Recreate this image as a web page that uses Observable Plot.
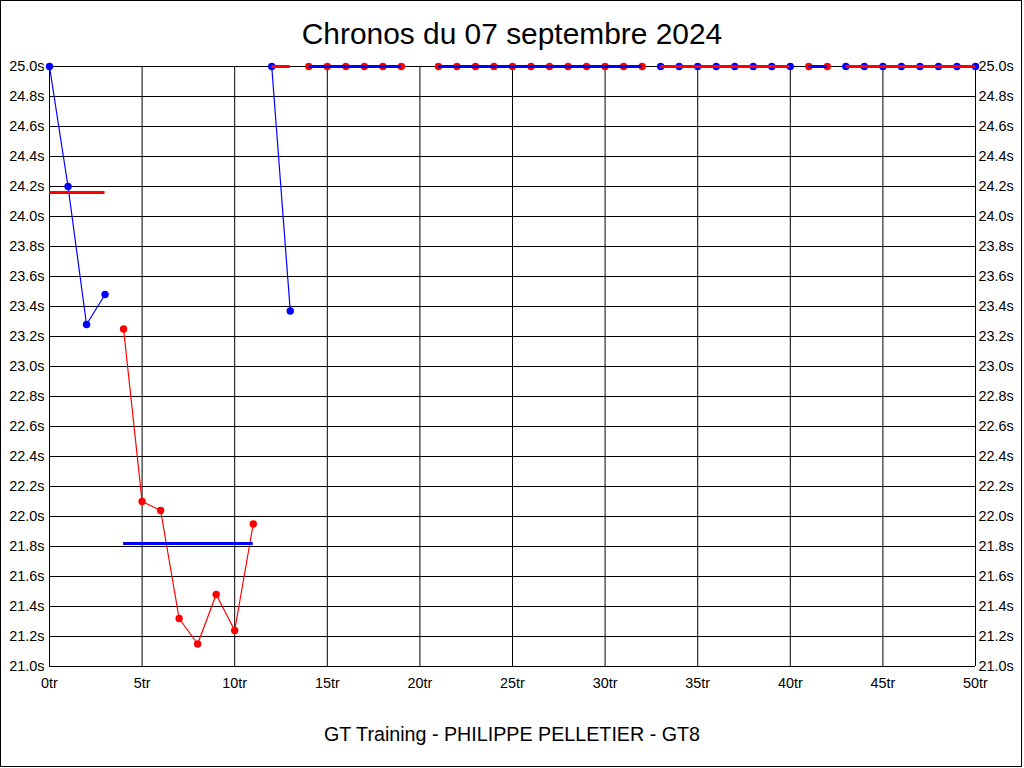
<!DOCTYPE html>
<html>
<head>
<meta charset="utf-8">
<script src="https://cdn.jsdelivr.net/npm/d3@7"></script>
<script src="https://cdn.jsdelivr.net/npm/@observablehq/plot@0.6"></script>
<style>
  html, body { margin: 0; padding: 0; background: #fff; }
  #frame { position: absolute; left: 0; top: 0; width: 1022px; height: 767px; border: 1px solid #000; box-sizing: border-box; }
  .txt { position: absolute; left: 0; width: 1024px; text-align: center; font-family: "Liberation Sans", Arial, sans-serif; color: #000; white-space: nowrap; }
  #title { top: 19px; font-size: 29.9px; line-height: 29.9px; }
  #footer { top: 725px; font-size: 19.7px; line-height: 19.7px; }
  #chart { position: absolute; left: 0; top: 50px; }
</style>
</head>
<body>
<div id="frame"></div>
<div id="title" class="txt">Chronos du 07 septembre 2024</div>
<div id="chart"></div>
<div id="footer" class="txt">GT Training - PHILIPPE PELLETIER - GT8</div>
<script>
// Lap times (index = lap number); null = no time recorded (lap 20)
const lapTimes = [
  25.0, 24.2, 23.28, 23.48,
  23.25, 22.10, 22.04, 21.32, 21.15, 21.48, 21.24, 21.95,
  25.0, 23.37,
  25.0, 25.0, 25.0, 25.0, 25.0, 25.0,
  null,
  25.0, 25.0, 25.0, 25.0, 25.0, 25.0, 25.0, 25.0, 25.0, 25.0, 25.0, 25.0,
  25.0, 25.0, 25.0, 25.0, 25.0, 25.0, 25.0, 25.0,
  25.0, 25.0,
  25.0, 25.0, 25.0, 25.0, 25.0, 25.0, 25.0, 25.0
];
// Stints
const stintStart = [0, 4, 12, 14, 21, 33, 41, 43];
const stintEnd   = [3, 11, 13, 19, 32, 40, 42, 50];
const stintColor = ["blue", "red", "blue", "red", "red", "blue", "red", "blue"];
const stintMean  = [24.16, 21.82, 25.0, 25.0, 25.0, 25.0, 25.0, 25.0];
const meanColor  = ["red", "blue", "red", "blue", "blue", "red", "blue", "red"];

const xTicks = [0, 5, 10, 15, 20, 25, 30, 35, 40, 45, 50];
const yTicks = [21.0, 21.2, 21.4, 21.6, 21.8, 22.0, 22.2, 22.4, 22.6, 22.8, 23.0,
                23.2, 23.4, 23.6, 23.8, 24.0, 24.2, 24.4, 24.6, 24.8, 25.0];

const rows = [];
lapTimes.forEach((t, lap) => {
  if (t == null) return;
  const s = stintStart.findIndex((a, i) => lap >= a && lap <= stintEnd[i]);
  rows.push({lap, time: t, stint: s, color: stintColor[s]});
});
const means = stintStart.map((a, i) => ({start: a, end: stintEnd[i], mean: stintMean[i], color: meanColor[i]}));

const fmtY = d => d.toFixed(1) + "s";
const fmtX = d => d + "tr";

const chart = Plot.plot({
  width: 1024,
  height: 656,
  marginLeft: 49,
  marginRight: 49,
  marginTop: 16,
  marginBottom: 40,
  style: {fontFamily: "'Liberation Sans', Arial, sans-serif", fontSize: "14px", color: "#000", background: "transparent"},
  x: {domain: [0, 50]},
  y: {domain: [21, 25]},
  color: {type: "identity"},
  marks: [
    Plot.gridX(xTicks, {stroke: "#000", strokeOpacity: 1}),
    Plot.gridY(yTicks, {stroke: "#000", strokeOpacity: 1}),
    Plot.axisY(yTicks, {anchor: "left", tickSize: 0, tickPadding: 5, tickFormat: fmtY, label: null, fontSize: 14.4}),
    Plot.axisY(yTicks, {anchor: "right", tickSize: 0, tickPadding: 3, tickFormat: fmtY, label: null, fontSize: 14.4}),
    Plot.axisX(xTicks, {anchor: "bottom", tickSize: 0, tickPadding: 11, tickFormat: fmtX, label: null, fontSize: 14.4}),
    Plot.line(rows, {x: "lap", y: "time", z: "stint", stroke: "color", strokeWidth: 1.2}),
    Plot.dot(rows, {x: "lap", y: "time", fill: "color", r: 3.7, stroke: null}),
    Plot.ruleY(means, {x1: "start", x2: "end", y: "mean", stroke: "color", strokeWidth: 3})
  ]
});
document.getElementById("chart").appendChild(chart);
</script>
</body>
</html>
